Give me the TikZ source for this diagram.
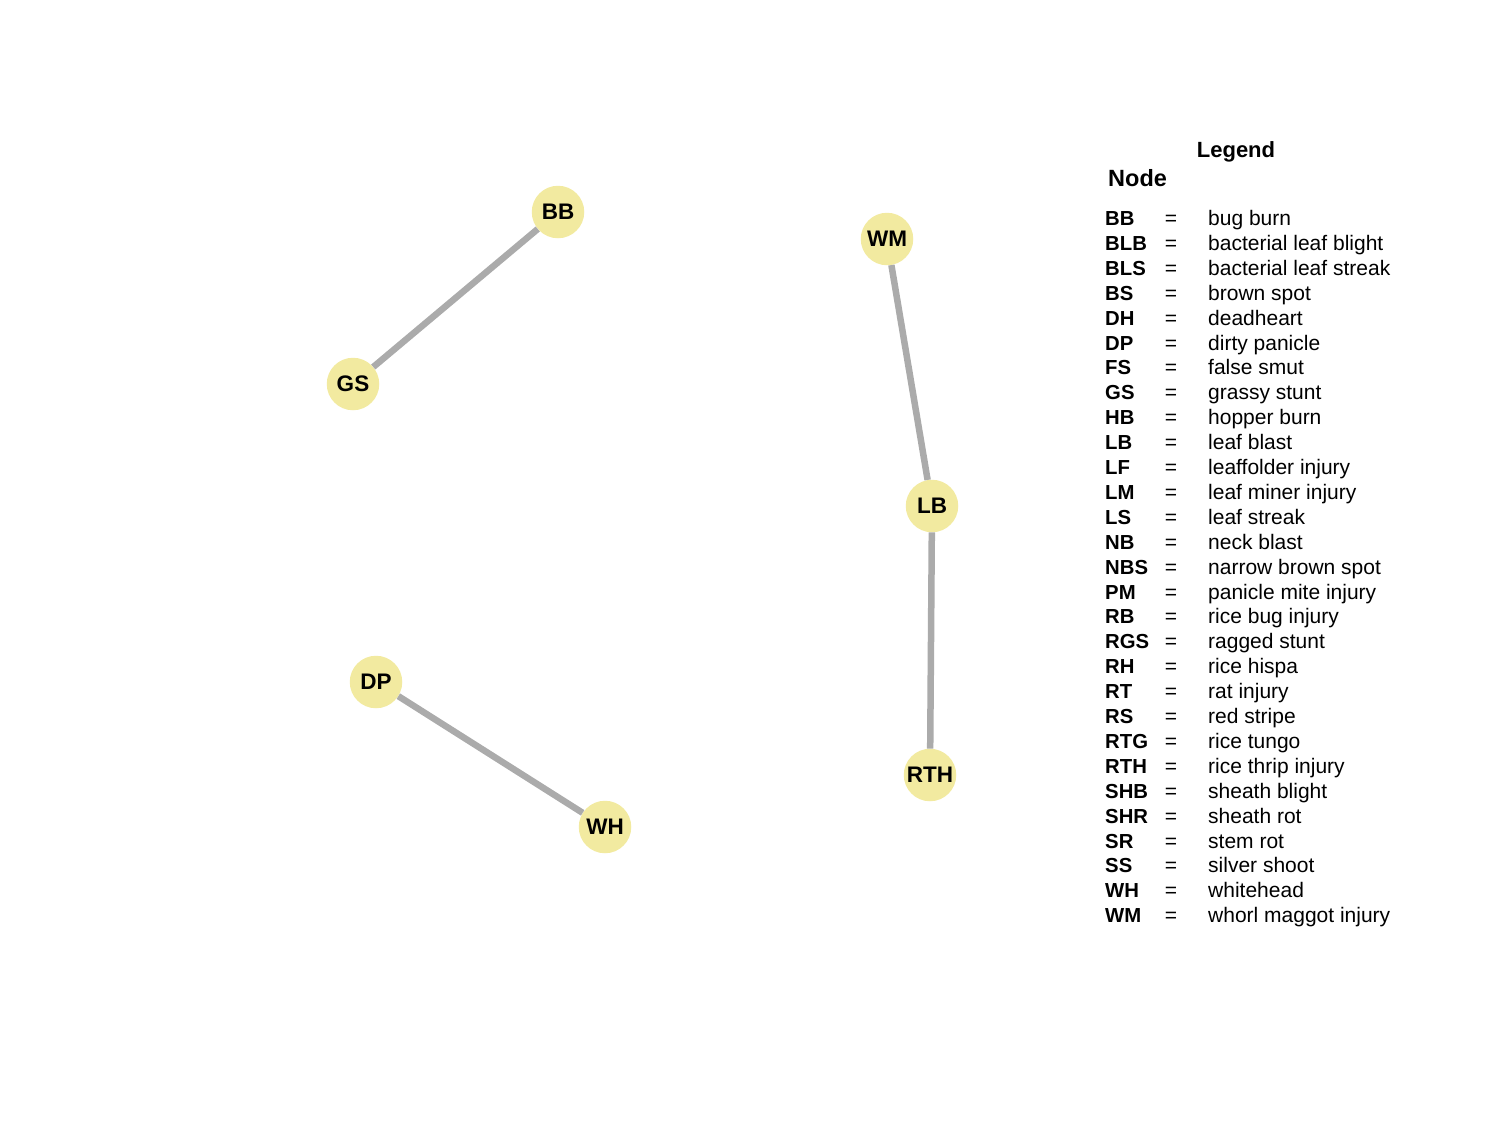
\documentclass[tikz,border=0pt]{standalone}
\usepackage{fontspec}
\setmainfont{Liberation Sans}
\definecolor{nodefill}{RGB}{242,234,160}
\definecolor{edgegray}{RGB}{171,171,171}
\begin{document}
\begin{tikzpicture}[x=1pt,y=-1pt,
  vtx/.style={circle,fill=nodefill,draw=none,minimum size=52.5pt,inner sep=0pt,font=\fontsize{22.5}{26}\selectfont\bfseries},
  edg/.style={draw=edgegray,line width=6.5pt},
  abbr/.style={anchor=base west,inner sep=0pt,font=\fontsize{20.3}{25}\selectfont\bfseries},
  eqs/.style={anchor=base,inner sep=0pt,font=\fontsize{21}{25}\selectfont},
  desc/.style={anchor=base west,inner sep=0pt,font=\fontsize{21}{25}\selectfont}]
\useasboundingbox (0,0) rectangle (1500,1125);
% nodes
\node[vtx] (BB) at (558,212) {BB};
\node[vtx] (GS) at (353,384) {GS};
\node[vtx] (WM) at (887,239) {WM};
\node[vtx] (LB) at (932,506) {LB};
\node[vtx] (RTH) at (930,775) {RTH};
\node[vtx] (DP) at (376,682) {DP};
\node[vtx] (WH) at (605,827) {WH};
% edges
\draw[edg] (BB) -- (GS);
\draw[edg] (WM) -- (LB);
\draw[edg] (LB) -- (RTH);
\draw[edg] (DP) -- (WH);
% legend
\node[anchor=base,inner sep=0pt,font=\fontsize{22}{26}\selectfont\bfseries] (legtitle) at (1236,157.5) {Legend};
\node[anchor=base west,inner sep=0pt,font=\fontsize{23.5}{27}\selectfont\bfseries] (nodetitle) at (1108,186.5) {Node};
\foreach [count=\i from 0] \a/\d in {
  BB/bug burn, BLB/bacterial leaf blight, BLS/bacterial leaf streak, BS/brown spot,
  DH/deadheart, DP/dirty panicle, FS/false smut, GS/grassy stunt, HB/hopper burn,
  LB/leaf blast, LF/leaffolder injury, LM/leaf miner injury, LS/leaf streak,
  NB/neck blast, NBS/narrow brown spot, PM/panicle mite injury, RB/rice bug injury,
  RGS/ragged stunt, RH/rice hispa, RT/rat injury, RS/red stripe, RTG/rice tungo,
  RTH/rice thrip injury, SHB/sheath blight, SHR/sheath rot, SR/stem rot,
  SS/silver shoot, WH/whitehead, WM/whorl maggot injury} {
  \pgfmathsetmacro{\yy}{225.5+24.9*\i}
  \node[abbr] (ab\i) at (1105,\yy) {\a};
  \node[eqs] (eq\i) at (1171,\yy) {=};
  \node[desc] (de\i) at (1208,\yy) {\d};
}
\end{tikzpicture}
\end{document}
